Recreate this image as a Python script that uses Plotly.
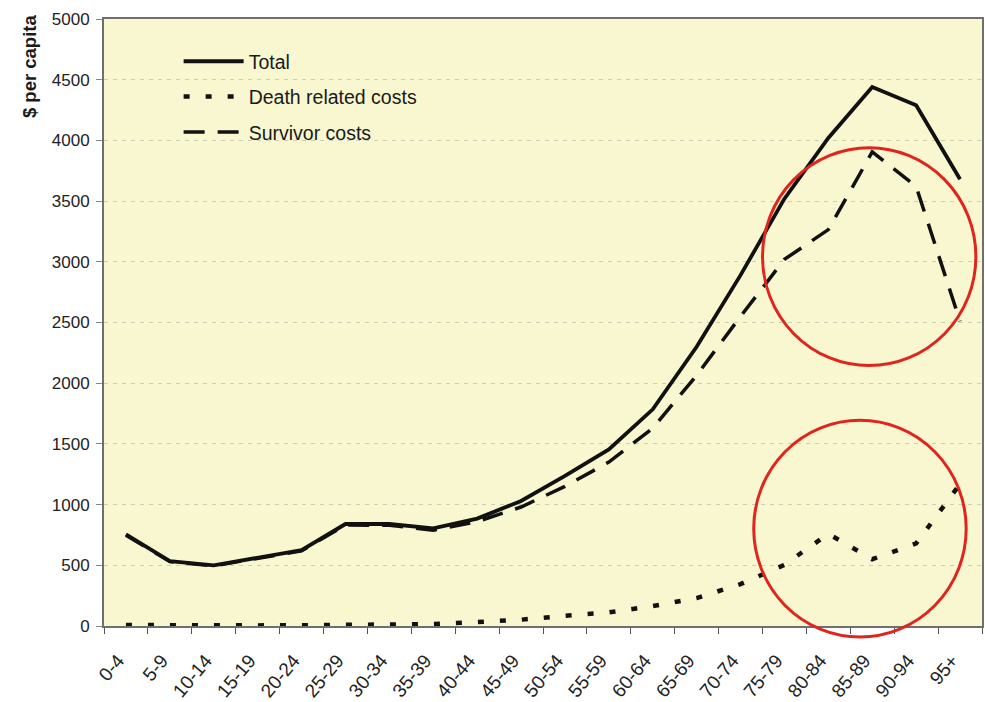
import plotly.graph_objects as go

# Age groups on the x axis
age_groups = ["0-4", "5-9", "10-14", "15-19", "20-24", "25-29", "30-34", "35-39",
              "40-44", "45-49", "50-54", "55-59", "60-64", "65-69", "70-74",
              "75-79", "80-84", "85-89", "90-94", "95+"]

# Health costs, $ per capita
total_cost = [755, 535, 500, 560, 625, 840, 840, 805, 885, 1030, 1236, 1455,
              1785, 2300, 2890, 3520, 4020, 4440, 4290, 3680]
death_cost = [8, 4, 4, 5, 6, 8, 10, 16, 32, 52, 84, 112,
              164, 230, 345, 504, 760, 550, 680, 1170]
survivor_cost = [747, 531, 496, 555, 619, 832, 830, 789, 860, 980, 1150, 1350,
                 1630, 2065, 2550, 3020, 3265, 3905, 3620, 2510]

y_ticks = [0, 500, 1000, 1500, 2000, 2500, 3000, 3500, 4000, 4500, 5000]

FONT = "Liberation Sans, Arial, sans-serif"
INK = "#111111"

fig = go.Figure()

fig.add_trace(go.Scatter(
    x=age_groups, y=death_cost, mode="lines", name="Death related costs",
    line=dict(color=INK, width=4.5, dash="6px,16px"),
    legendgroup="death", legendrank=2,
))
fig.add_trace(go.Scatter(
    x=age_groups, y=survivor_cost, mode="lines", name="Survivor costs",
    line=dict(color=INK, width=3.5, dash="21px,13px"),
    legendgroup="survivor", legendrank=3,
))
fig.add_trace(go.Scatter(
    x=age_groups, y=total_cost, mode="lines", name="Total",
    line=dict(color=INK, width=3.8),
    legendgroup="total", legendrank=1,
))

# Red highlight circles over the oldest age groups
circle_style = dict(type="circle", xref="paper", yref="paper",
                    line=dict(color="#e0251f", width=3), fillcolor="rgba(0,0,0,0)",
                    layer="above")
fig.add_shape(x0=0.750, x1=0.993, y0=0.429, y1=0.788, **circle_style)
fig.add_shape(x0=0.740, x1=0.982, y0=-0.018, y1=0.339, **circle_style)

# Rotated axis title, set at the top of the axis
fig.add_annotation(
    text="<b>$ per capita</b>", textangle=-90,
    xref="paper", yref="paper", x=-0.085, y=1.012,
    xanchor="center", yanchor="top", showarrow=False,
    font=dict(family=FONT, size=18.5, color="#1a1a1a"),
)

fig.update_layout(
    width=985, height=702,
    margin=dict(l=104, r=1, t=19, b=75),
    paper_bgcolor="white",
    plot_bgcolor="#f8f7d0",
    showlegend=True,
    legend=dict(
        x=0.085, y=0.962, xanchor="left", yanchor="top",
        bgcolor="rgba(0,0,0,0)", borderwidth=0,
        font=dict(family=FONT, size=19.5, color="#1a1a1a"),
        tracegroupgap=7, itemwidth=60,
    ),
)

fig.update_xaxes(
    type="category", range=[-0.5, len(age_groups) - 0.5],
    tickson="boundaries", ticks="outside", ticklen=6, tickcolor="#555555",
    tickangle=-50, ticklabelstandoff=14, ticklabelshift=-8,
    showgrid=False, zeroline=False,
    showline=True, linecolor="#6f6f6f", linewidth=2, mirror=True,
    tickfont=dict(family=FONT, size=19, color="#222222"),
)
fig.update_yaxes(
    range=[0, 5000], tickvals=y_ticks, ticks="outside", ticklen=6, tickcolor="#888888",
    ticklabelstandoff=3,
    showgrid=True, gridcolor="#cdcdb8", gridwidth=1, griddash="4px,5px",
    zeroline=False, showline=True, linecolor="#6f6f6f", linewidth=2, mirror=True,
    tickfont=dict(family=FONT, size=17, color="#222222"),
)

fig.write_html("out.html")
